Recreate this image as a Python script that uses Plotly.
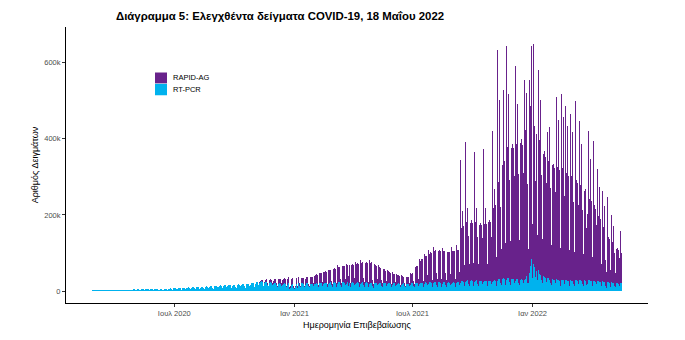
import pandas as pd
import plotly.graph_objects as go

# ---------------- data (thousands of samples per day) ----------------
PCR_START = "2020-02-24"      # first Monday of the RT-PCR rows
RAPID_START = "2020-11-09"    # first Monday of the RAPID-AG rows

# RT-PCR, one row per week (Mon..Sun)
pcr_weeks = [
    [0, 0, 1.8, 2.0, 2.1, 1.8, 1.5],
    [2.0, 2.1, 2.2, 2.3, 2.4, 2.0, 1.7],
    [2.2, 2.3, 2.4, 2.5, 2.6, 2.1, 1.8],
    [2.3, 2.4, 2.5, 2.6, 2.7, 2.2, 1.8],
    [2.4, 2.5, 2.6, 2.7, 2.8, 2.2, 1.9],
    [2.5, 2.6, 2.7, 2.9, 2.8, 2.2, 1.9],
    [2.6, 2.8, 3.0, 3.1, 2.9, 2.2, 1.9],
    [2.5, 2.9, 3.2, 3.3, 3.1, 2.0, 1.6],
    [2.2, 3.3, 3.6, 3.8, 3.7, 2.5, 1.6],
    [3.5, 3.9, 4.1, 4.3, 4.0, 2.8, 1.8],
    [3.8, 4.3, 4.5, 4.6, 4.4, 3.0, 2.0],
    [4.0, 4.6, 4.8, 5.0, 4.7, 3.2, 2.2],
    [4.2, 4.8, 5.0, 5.2, 4.9, 3.4, 2.3],
    [4.4, 5.0, 5.3, 5.4, 5.1, 3.5, 2.4],
    [4.6, 5.3, 5.5, 5.7, 5.3, 3.7, 2.5],
    [3.8, 5.6, 5.8, 6.0, 5.6, 3.9, 2.6],
    [5.0, 5.9, 6.2, 6.4, 6.0, 4.1, 2.8],
    [5.3, 6.3, 6.6, 6.8, 6.4, 4.4, 3.0],
    [5.8, 6.8, 7.2, 7.5, 7.0, 5.0, 3.4],
    [6.3, 7.4, 7.8, 8.1, 7.6, 5.5, 3.8],
    [6.8, 8.0, 8.4, 8.7, 8.2, 6.0, 4.2],
    [7.2, 8.5, 9.0, 9.3, 8.8, 6.4, 4.5],
    [7.8, 9.1, 9.6, 10.0, 9.4, 6.8, 4.8],
    [8.5, 10.0, 10.5, 11.0, 10.3, 7.4, 5.2],
    [9.2, 10.8, 11.4, 11.8, 11.0, 8.0, 5.5],
    [9.8, 11.5, 12.2, 12.5, 11.8, 8.5, 6.0],
    [10.3, 12.1, 12.8, 13.2, 12.4, 9.0, 6.3],
    [11.0, 12.8, 13.5, 14.0, 13.2, 9.5, 6.8],
    [11.6, 13.5, 14.3, 14.8, 13.9, 10.0, 7.2],
    [12.2, 14.2, 15.0, 15.5, 14.6, 10.5, 7.5],
    [12.8, 14.9, 15.7, 16.2, 15.3, 11.0, 7.9],
    [13.3, 15.5, 16.4, 16.9, 16.0, 11.5, 8.3],
    [14.0, 16.3, 17.2, 17.7, 16.8, 12.0, 8.7],
    [14.8, 17.2, 18.1, 18.6, 17.7, 12.7, 9.2],
    [15.8, 18.4, 19.4, 20.0, 19.0, 13.6, 9.8],
    [17.0, 19.8, 14.0, 21.5, 20.4, 14.6, 10.5],
    [19.0, 22.5, 23.5, 24.5, 23.0, 16.5, 12.0],
    [20.5, 24.0, 25.0, 26.0, 24.5, 17.5, 12.8],
    [20.0, 23.0, 24.0, 24.8, 23.2, 16.6, 12.0],
    [18.5, 21.5, 22.4, 23.0, 21.8, 15.5, 11.3],
    [17.5, 20.3, 21.2, 21.8, 20.5, 14.6, 10.6],
    [16.5, 19.2, 20.0, 20.6, 19.4, 13.8, 10.0],
    [16.0, 18.6, 19.4, 19.9, 18.8, 13.4, 9.7],
    [16.5, 19.0, 19.8, 17.0, 6.5, 9.0, 10.5],
    [17.0, 18.5, 18.0, 8.0, 6.0, 11.0, 9.5],
    [18.0, 19.5, 8.5, 20.5, 19.8, 14.0, 10.0],
    [17.5, 19.8, 20.2, 20.6, 19.4, 13.8, 9.8],
    [17.0, 19.4, 19.9, 20.3, 19.0, 13.5, 9.6],
    [16.8, 19.2, 19.7, 20.1, 18.9, 13.4, 9.5],
    [17.2, 19.7, 20.2, 20.7, 19.4, 13.8, 9.8],
    [17.8, 20.4, 20.9, 21.4, 20.1, 14.3, 10.1],
    [18.5, 21.2, 21.7, 22.2, 20.9, 14.8, 10.5],
    [19.0, 21.8, 22.3, 22.9, 21.5, 15.2, 10.8],
    [19.2, 22.0, 22.6, 23.1, 21.7, 15.4, 10.9],
    [19.5, 22.3, 22.9, 23.4, 22.0, 15.6, 11.0],
    [13.0, 22.6, 23.2, 23.7, 22.3, 15.8, 11.2],
    [19.6, 22.5, 23.1, 12.0, 22.1, 15.7, 11.1],
    [19.4, 22.3, 22.9, 23.4, 21.9, 15.5, 11.0],
    [19.0, 21.8, 22.4, 22.9, 21.5, 15.2, 10.8],
    [18.8, 21.6, 22.1, 22.6, 21.3, 15.1, 10.7],
    [18.6, 21.3, 21.9, 22.4, 21.0, 14.9, 10.6],
    [18.4, 21.1, 21.6, 22.1, 16.0, 12.0, 8.0],
    [9.0, 20.8, 21.3, 21.8, 20.5, 14.6, 10.3],
    [18.0, 20.6, 21.1, 21.6, 20.3, 14.5, 10.2],
    [17.6, 20.2, 20.7, 21.2, 19.9, 14.2, 10.0],
    [17.2, 19.8, 20.3, 20.8, 19.5, 13.9, 9.8],
    [16.8, 19.3, 19.8, 20.3, 19.0, 13.6, 9.6],
    [16.6, 19.0, 19.5, 20.0, 18.8, 13.4, 9.5],
    [16.4, 18.8, 19.3, 19.8, 18.6, 13.2, 9.3],
    [12.0, 18.9, 19.4, 19.9, 18.7, 13.3, 9.4],
    [16.8, 19.3, 19.8, 20.3, 19.0, 13.6, 9.6],
    [17.5, 20.1, 20.6, 21.1, 19.8, 14.1, 10.0],
    [18.3, 21.0, 21.5, 22.0, 20.7, 14.7, 10.4],
    [19.0, 21.8, 22.4, 22.9, 21.5, 15.3, 10.8],
    [19.5, 22.4, 23.0, 23.5, 22.1, 15.7, 11.1],
    [19.8, 22.7, 23.3, 23.8, 22.4, 15.9, 11.3],
    [19.6, 22.5, 23.1, 23.6, 22.2, 15.8, 11.2],
    [19.2, 22.0, 22.6, 23.1, 21.7, 15.4, 10.9],
    [19.0, 21.8, 22.4, 22.9, 21.5, 15.3, 10.8],
    [19.4, 22.3, 22.9, 23.4, 22.0, 15.6, 11.0],
    [20.0, 23.0, 23.6, 24.1, 22.7, 16.1, 11.4],
    [22.0, 25.3, 26.0, 26.5, 25.0, 17.7, 12.5],
    [23.0, 26.4, 27.1, 27.7, 26.1, 18.5, 13.0],
    [23.5, 27.0, 27.7, 28.3, 26.7, 18.9, 13.3],
    [23.2, 26.7, 27.4, 28.0, 26.4, 18.7, 13.2],
    [22.8, 26.2, 26.9, 27.5, 25.9, 18.3, 12.9],
    [22.5, 25.8, 26.5, 27.1, 25.5, 18.1, 12.7],
    [22.8, 26.2, 26.9, 17.0, 25.9, 18.3, 12.9],
    [24.0, 27.6, 28.3, 28.9, 27.2, 19.3, 13.6],
    [26.0, 29.9, 30.7, 31.4, 29.5, 20.9, 14.7],
    [27.5, 31.6, 32.4, 33.1, 31.2, 22.1, 15.6],
    [28.0, 32.2, 33.0, 33.7, 31.7, 22.5, 15.8],
    [27.5, 31.6, 32.4, 33.1, 31.2, 22.1, 15.6],
    [26.5, 30.5, 31.3, 32.0, 30.1, 21.3, 15.0],
    [26.0, 29.9, 30.7, 31.4, 29.5, 20.9, 14.7],
    [28.0, 32.5, 36.0, 40.0, 22.0, 18.0, 20.0],
    [48.0, 58.0, 66.0, 83.0, 30.0, 35.0, 38.0],
    [72.0, 64.0, 58.0, 38.0, 52.0, 36.0, 28.0],
    [55.0, 50.0, 46.0, 43.0, 40.0, 29.0, 22.0],
    [42.0, 39.0, 37.0, 35.0, 33.0, 24.0, 18.0],
    [35.0, 33.0, 31.0, 30.0, 29.0, 21.0, 16.0],
    [32.0, 31.0, 30.0, 29.0, 28.0, 20.0, 15.0],
    [31.0, 30.0, 29.0, 28.5, 27.5, 19.5, 14.5],
    [30.0, 29.5, 28.5, 28.0, 27.0, 19.0, 14.0],
    [29.5, 29.0, 28.0, 27.5, 26.5, 18.8, 13.8],
    [29.0, 28.5, 27.5, 27.0, 26.0, 18.5, 13.5],
    [15.0, 29.0, 28.0, 27.5, 26.5, 18.8, 13.8],
    [29.5, 29.0, 28.0, 27.5, 26.5, 18.8, 13.8],
    [29.0, 28.5, 27.5, 27.0, 16.0, 18.5, 13.5],
    [28.5, 28.0, 27.0, 26.5, 25.5, 18.2, 13.3],
    [27.5, 27.0, 26.0, 25.5, 24.5, 17.5, 12.8],
    [26.5, 26.0, 25.0, 24.5, 23.5, 16.8, 12.3],
    [25.5, 25.0, 24.0, 23.0, 16.0, 12.0, 9.0],
    [12.0, 24.0, 23.0, 22.5, 21.5, 15.3, 11.2],
    [23.0, 22.5, 21.5, 21.0, 20.0, 14.3, 10.5],
    [22.0, 21.5, 20.5, 20.0, 19.0, 13.6, 10.0],
    [21.0, 20.5],
]

# RAPID-AG, one row per week (Mon..Sun)
rapid_weeks = [
    [2, 3, 3, 4, 4, 2, 1],
    [5, 6, 6, 7, 6, 4, 2],
    [7, 8, 8, 9, 8, 5, 2],
    [9, 10, 10, 11, 10, 6, 3],
    [11, 12, 12, 13, 12, 7, 3],
    [12, 13, 13, 14, 13, 8, 3],
    [14, 15, 16, 15, 5, 5, 3],
    [15, 16, 14, 6, 3, 7, 3],
    [15, 16, 6, 17, 16, 6, 4],
    [14, 15, 15, 16, 15, 6, 4],
    [15, 16, 16, 17, 16, 6, 4],
    [17, 18, 18, 19, 18, 7, 5],
    [22, 22, 22, 23, 22, 9, 6],
    [28, 26, 26, 27, 26, 10, 7],
    [32, 29, 29, 30, 29, 12, 8],
    [36, 32, 32, 33, 32, 12, 8],
    [42, 36, 36, 37, 36, 14, 9],
    [48, 40, 40, 41, 40, 15, 10],
    [30, 43, 43, 44, 43, 16, 11],
    [52, 45, 45, 28, 45, 17, 11],
    [55, 47, 47, 48, 47, 18, 12],
    [58, 50, 50, 51, 50, 18, 12],
    [62, 52, 52, 53, 52, 19, 13],
    [66, 53, 53, 54, 53, 20, 13],
    [62, 52, 52, 53, 38, 16, 10],
    [30, 50, 48, 47, 46, 17, 11],
    [50, 42, 41, 40, 39, 15, 10],
    [44, 37, 36, 35, 34, 13, 9],
    [38, 32, 31, 30, 29, 12, 8],
    [32, 27, 26, 25, 24, 10, 7],
    [28, 23, 22, 21, 20, 9, 6],
    [25, 20, 19, 18, 18, 8, 5],
    [16, 19, 18, 18, 17, 8, 5],
    [30, 25, 26, 28, 29, 12, 8],
    [48, 42, 44, 46, 47, 18, 12],
    [66, 58, 60, 62, 63, 24, 15],
    [78, 68, 69, 70, 70, 27, 17],
    [88, 76, 77, 78, 78, 30, 18],
    [96, 82, 82, 83, 82, 32, 20],
    [98, 84, 84, 80, 84, 32, 20],
    [95, 82, 82, 83, 82, 31, 19],
    [94, 80, 80, 81, 80, 30, 19],
    [96, 82, 82, 83, 82, 32, 20],
    [100, 85, 85, 86, 85, 33, 21],
    [322, 140, 150, 185, 145, 120, 55],
    [370, 150, 155, 190, 150, 125, 58],
    [358, 152, 158, 195, 152, 125, 60],
    [342, 150, 155, 190, 150, 122, 58],
    [343, 148, 152, 188, 148, 120, 57],
    [351, 150, 155, 192, 150, 122, 58],
    [363, 155, 160, 150, 155, 125, 60],
    [396, 190, 200, 240, 200, 160, 75],
    [608, 240, 255, 470, 250, 200, 95],
    [630, 300, 320, 495, 310, 250, 110],
    [615, 330, 345, 485, 335, 270, 115],
    [606, 345, 355, 450, 345, 280, 120],
    [565, 355, 360, 460, 350, 285, 120],
    [530, 360, 370, 470, 355, 290, 122],
    [527, 390, 400, 480, 260, 130, 90],
    [507, 400, 420, 560, 300, 140, 100],
    [578, 370, 390, 250, 360, 295, 120],
    [527, 340, 350, 460, 340, 275, 115],
    [527, 320, 330, 440, 320, 260, 110],
    [383, 310, 315, 400, 305, 250, 105],
    [462, 300, 305, 410, 295, 240, 100],
    [478, 295, 300, 420, 290, 236, 98],
    [487, 290, 295, 430, 285, 232, 96],
    [458, 280, 285, 405, 275, 225, 94],
    [436, 270, 275, 390, 265, 215, 90],
    [300, 470, 265, 380, 258, 208, 88],
    [417, 245, 250, 360, 240, 195, 84],
    [411, 235, 240, 345, 150, 185, 80],
    [392, 215, 220, 320, 210, 170, 75],
    [368, 195, 200, 300, 190, 155, 68],
    [294, 170, 175, 250, 165, 135, 60],
    [237, 140, 145, 200, 100, 70, 40],
    [120, 223, 120, 180, 115, 95, 45],
    [177, 105, 108, 150, 100, 85, 38],
    [144, 90, 92, 130, 88, 72, 34],
    [137, 80],
]

x_tick_dates = ["2020-07-01", "2021-01-01", "2021-07-01", "2022-01-01"]
x_tick_labels = ["Ιουλ 2020", "Ιαν 2021", "Ιουλ 2021", "Ιαν 2022"]
y_tick_vals = [0, 200000, 400000, 600000]
y_tick_labels = ["0", "200k", "400k", "600k"]

series_names = ["RAPID-AG", "RT-PCR"]
series_colors = ["#68228B", "#00B2EE"]

# ---------------- build ----------------
def flatten(weeks):
    return [v * 1000 for w in weeks for v in w]

pcr_vals = flatten(pcr_weeks)
rapid_vals = flatten(rapid_weeks)
pcr_dates = pd.date_range(PCR_START, periods=len(pcr_vals), freq="D")
rapid_dates = pd.date_range(RAPID_START, periods=len(rapid_vals), freq="D")

fig = go.Figure()
fig.add_trace(go.Bar(x=pcr_dates, y=pcr_vals, name=series_names[1],
                     marker=dict(color=series_colors[1], line=dict(width=0)),
                     showlegend=False))
fig.add_trace(go.Bar(x=rapid_dates, y=rapid_vals, name=series_names[0],
                     marker=dict(color=series_colors[0], line=dict(width=0)),
                     showlegend=False))

FONT = "Liberation Sans, Arial, Helvetica, sans-serif"
W, H = 685, 340
ML, MR, MT, MB = 66, 37, 27, 34
PW, PH = W - ML - MR, H - MT - MB

def px_x(p):
    return (p - ML) / PW

def px_y(p):
    return (H - MB - p) / PH

# manual legend (keys as in the reference)
legend_rows = [(series_names[0], series_colors[0], 73, 84),
               (series_names[1], series_colors[1], 84.5, 96)]
for name, col, top, bot in legend_rows:
    fig.add_shape(type="rect", xref="paper", yref="paper",
                  x0=px_x(155), x1=px_x(167), y0=px_y(bot), y1=px_y(top),
                  fillcolor=col, line=dict(width=0), layer="above")
    fig.add_annotation(xref="paper", yref="paper", x=px_x(171), y=px_y((top + bot) / 2),
                       text=name, showarrow=False, xanchor="left", yanchor="middle",
                       font=dict(family=FONT, size=7.5, color="black"))

fig.update_layout(
    width=W, height=H,
    margin=dict(l=ML, r=MR, t=MT, b=MB),
    paper_bgcolor="white", plot_bgcolor="white",
    barmode="stack", bargap=0,
    font=dict(family=FONT, color="black"),
    title=dict(text="<b>Διάγραμμα 5: Ελεγχθέντα δείγματα COVID-19, 18 Μαΐου 2022</b>",
               x=px_x(116), xref="paper", xanchor="left",
               y=1 - 16 / H, yref="container", yanchor="middle",
               font=dict(family=FONT, size=11.4, color="black")),
    xaxis=dict(type="date", range=["2020-01-17", "2022-06-27"],
               tickvals=x_tick_dates, ticktext=x_tick_labels,
               ticks="outside", ticklen=3, tickwidth=1, tickcolor="#333333",
               showline=True, linecolor="black", linewidth=1,
               showgrid=False, zeroline=False,
               tickfont=dict(family=FONT, size=7.5, color="#4D4D4D"),
               title=dict(text="Ημερομηνία Επιβεβαίωσης", standoff=4,
                          font=dict(family=FONT, size=9, color="black"))),
    yaxis=dict(range=[-31500, 694000],
               tickvals=y_tick_vals, ticktext=y_tick_labels,
               ticks="outside", ticklen=3, tickwidth=1, tickcolor="#333333",
               showline=True, linecolor="black", linewidth=1,
               showgrid=False, zeroline=False,
               tickfont=dict(family=FONT, size=7.5, color="#4D4D4D"),
               title=dict(text="Αριθμός Δειγμάτων", standoff=4,
                          font=dict(family=FONT, size=9, color="black"))),
)

fig.write_html("out.html", config={"staticPlot": True})
